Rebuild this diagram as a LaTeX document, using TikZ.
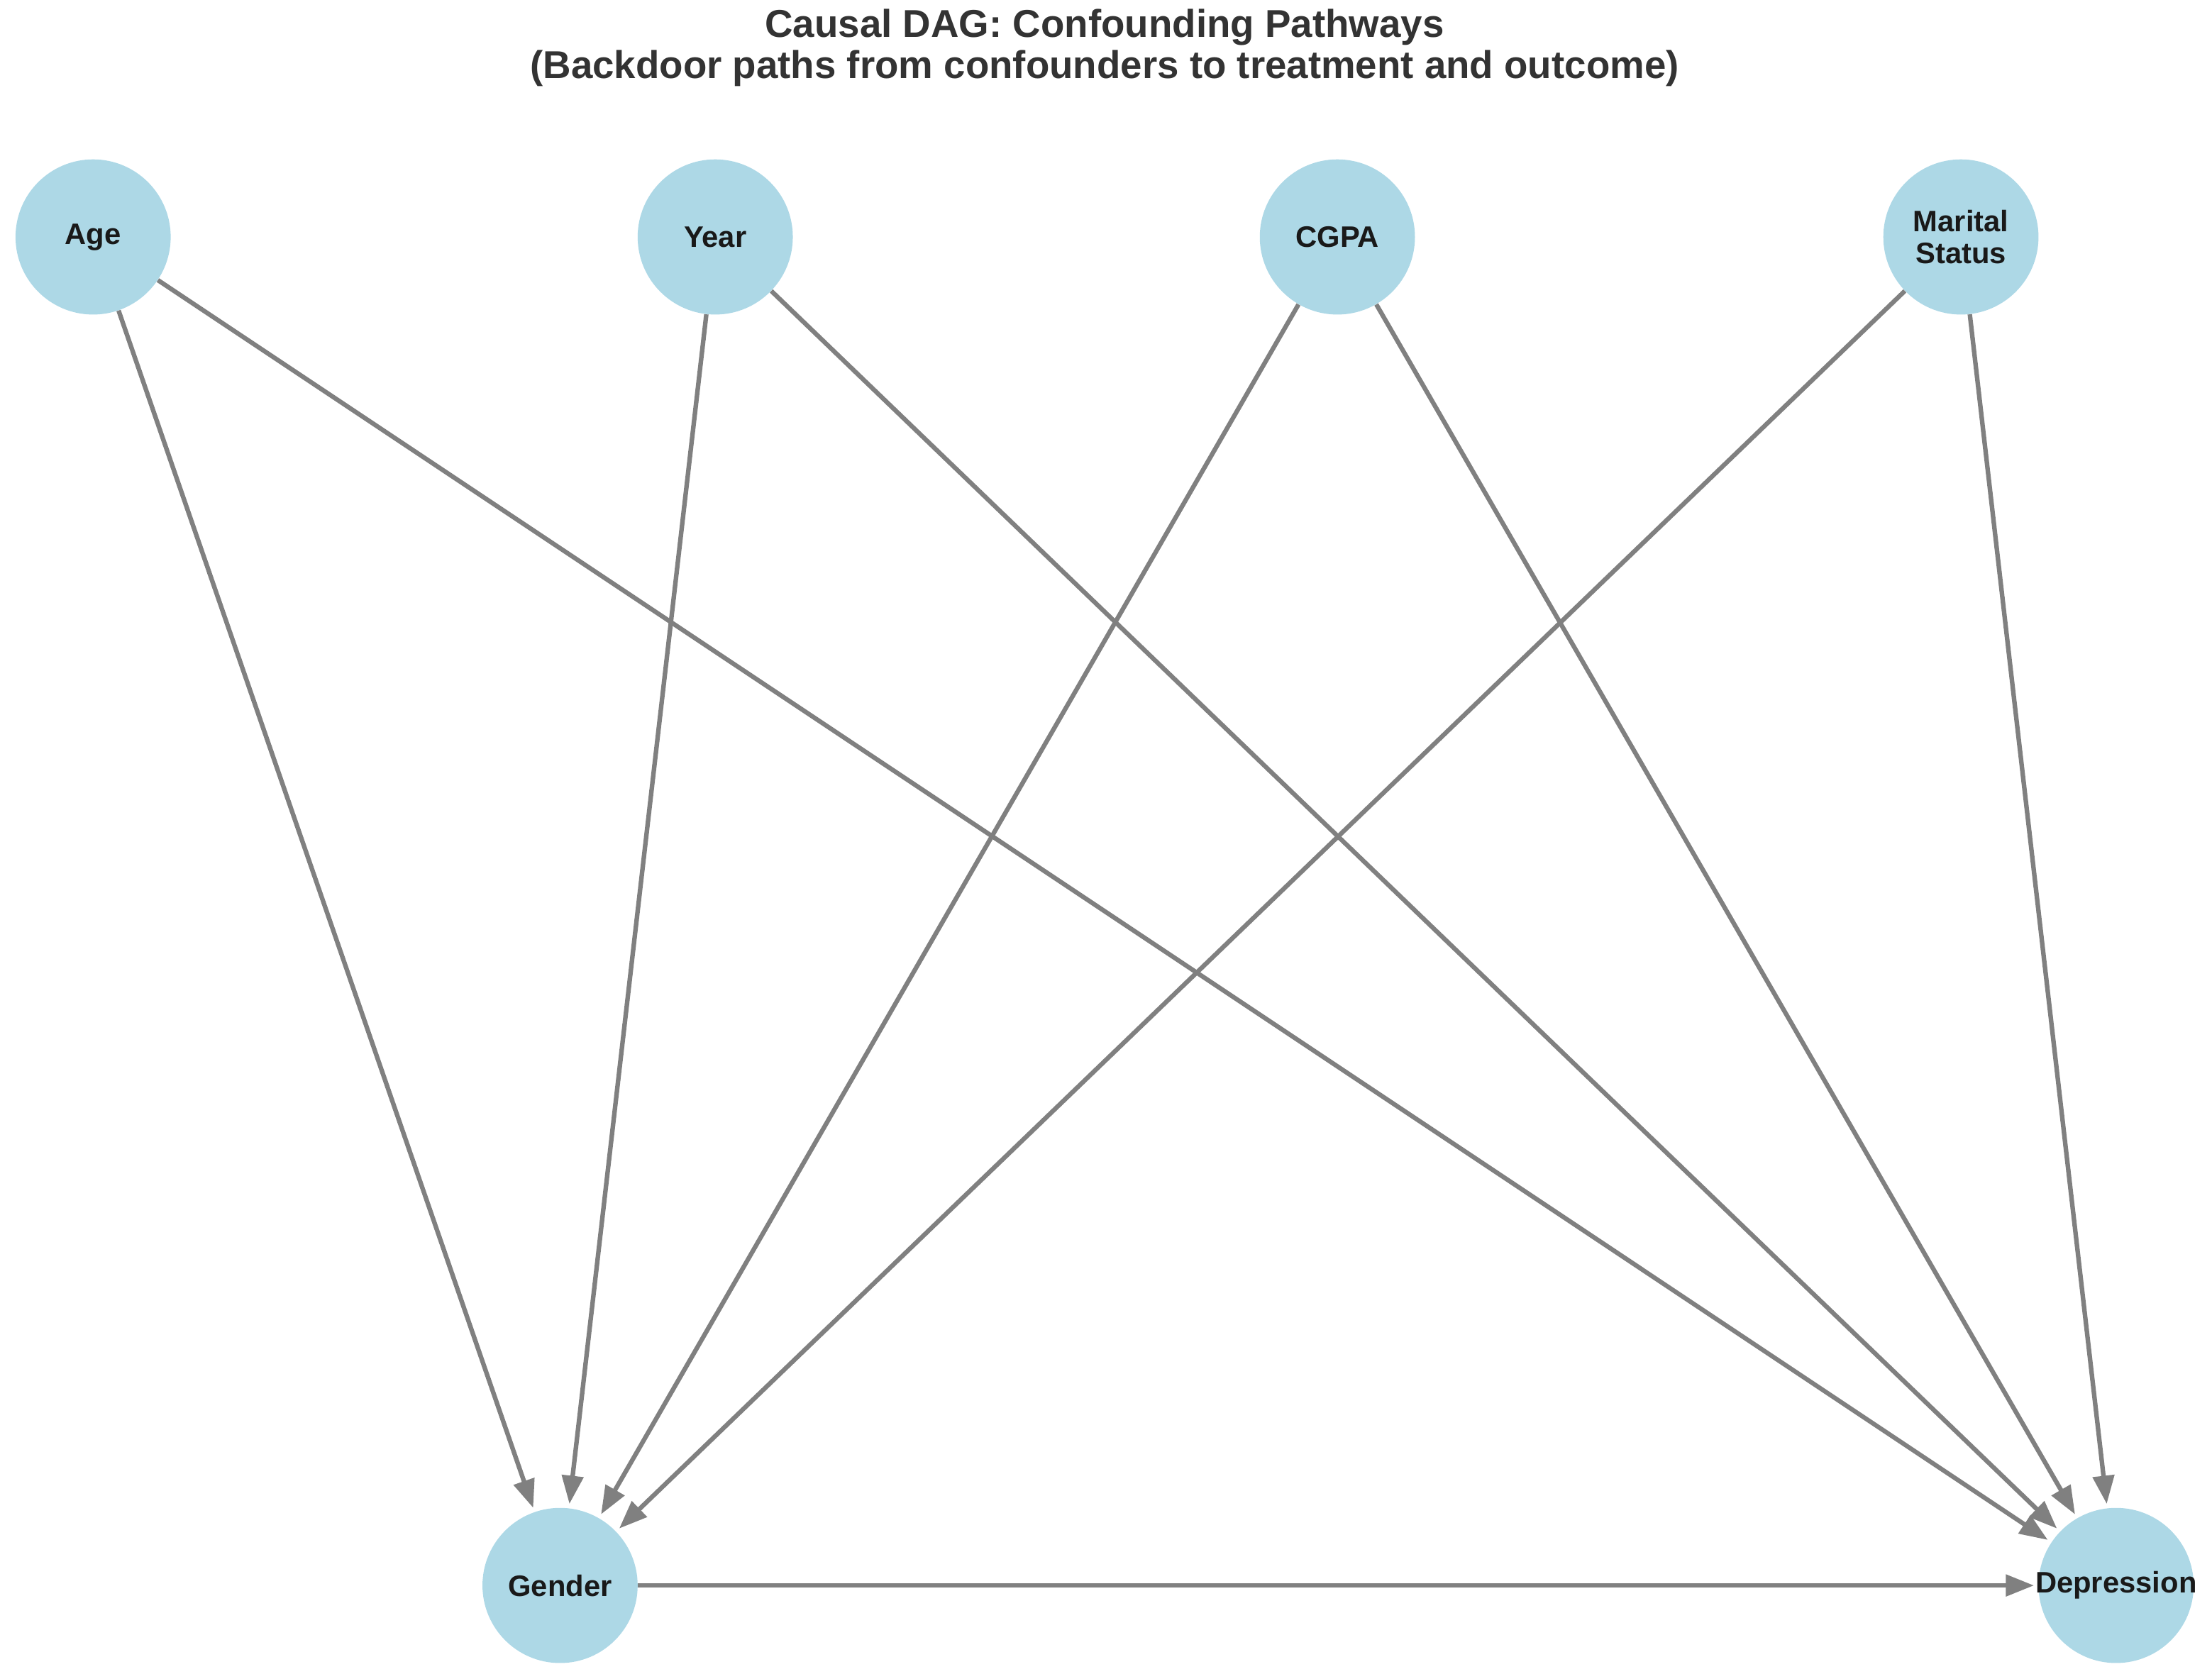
\documentclass[tikz,border=0pt]{standalone}
\usepackage{fontspec}
\setmainfont{Liberation Sans}
\usetikzlibrary{arrows.meta}
\definecolor{nodeblue}{HTML}{ADD8E6}
\definecolor{edgegray}{HTML}{808080}
\definecolor{titlegray}{HTML}{333333}
\tikzset{
  var/.style={circle,fill=nodeblue,draw=none,minimum size=110pt,inner sep=0pt,font=\fontsize{21}{23}\selectfont\bfseries,align=center,text=black!90},
  edge/.style={draw=edgegray,line width=3.2pt,-{Triangle[length=20pt,width=15pt]},shorten >=3pt}
}
\begin{document}
\begin{tikzpicture}[x=1pt,y=1pt]
\useasboundingbox (0,0) rectangle (1568,-1190);
\node[font=\fontsize{27.5}{29}\selectfont\bfseries,text=titlegray,align=center] (title) at (783,-34) {Causal DAG: Confounding Pathways\\(Backdoor paths from confounders to treatment and outcome)};
\node[var] (age) at (66,-168) {Age};
\node[var] (year) at (507,-168) {Year};
\node[var] (cgpa) at (948,-168) {CGPA};
\node[var] (mar) at (1390,-168) {Marital\\Status};
\node[var] (gen) at (397,-1124) {Gender};
\node[var] (dep) at (1500,-1124) {};
\foreach \s in {age,year,cgpa,mar}{
  \draw[edge] (\s) -- (gen);
  \draw[edge] (\s) -- (dep);
}
\draw[edge] (gen) -- (dep);
\node[font=\fontsize{21}{23}\selectfont\bfseries,text=black!90] (deplab) at (dep.center) {Depression};
\end{tikzpicture}
\end{document}
